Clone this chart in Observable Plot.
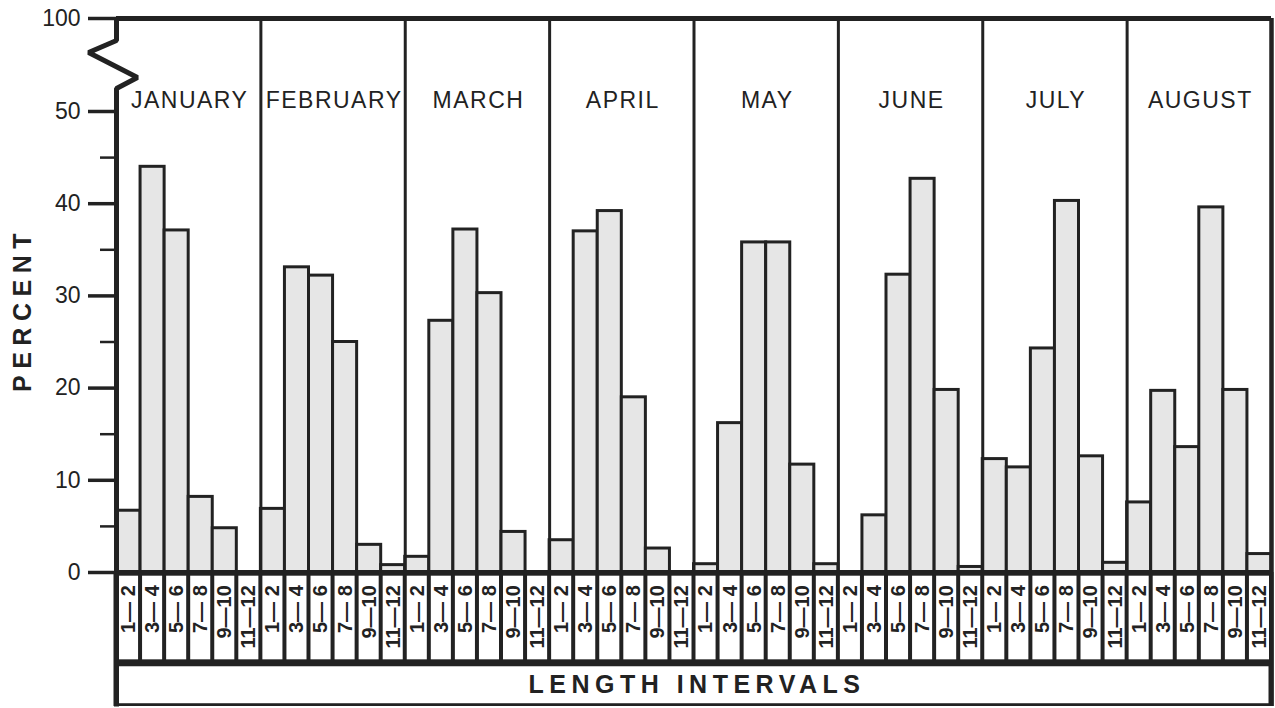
<!DOCTYPE html>
<html>
<head>
<meta charset="utf-8">
<script src="https://cdn.jsdelivr.net/npm/d3@7"></script>
<script src="https://cdn.jsdelivr.net/npm/@observablehq/plot@0.6"></script>
<style>
  html, body { margin: 0; padding: 0; background: white; }
</style>
</head>
<body>
<div id="chart"></div>
<script>
// ---- data ----
const months = ["JANUARY", "FEBRUARY", "MARCH", "APRIL", "MAY", "JUNE", "JULY", "AUGUST"];
const intervals = ["1\u2014 2", "3\u2014 4", "5\u2014 6", "7\u2014 8", "9\u201410", "11\u201412"];
const january  = [6.7, 44.0, 37.1, 8.2, 4.8, 0];
const february = [6.9, 33.1, 32.2, 25.0, 3.0, 0.8];
const march    = [1.7, 27.3, 37.2, 30.3, 4.4, 0];
const april    = [3.5, 37.0, 39.2, 19.0, 2.6, 0];
const may      = [0.9, 16.2, 35.8, 35.8, 11.7, 0.9];
const june     = [0, 6.2, 32.3, 42.7, 19.8, 0.6];
const july     = [12.3, 11.4, 24.3, 40.3, 12.6, 1.05];
const august   = [7.6, 19.7, 13.6, 39.6, 19.8, 2.0];
const yTicks = [0, 10, 20, 30, 40, 50, 100];
const yMinorTicks = [5, 15, 25, 35, 45];
const axisTitle = "PERCENT";
const xTitle = "LENGTH INTERVALS";

const series = [january, february, march, april, may, june, july, august];
const rows = months.flatMap((m, mi) =>
  series[mi].map((v, ii) => ({month: m, interval: intervals[ii], pos: mi * intervals.length + ii, value: v}))
);
const nSlots = months.length * intervals.length;
const panelEdges = d3.range(1, months.length).map(k => k * intervals.length);
const monthCenters = months.map((m, mi) => ({month: m, pos: mi * intervals.length + intervals.length / 2}));

const ink = "#222";
const plot = Plot.plot({
  width: 1275,
  height: 708,
  marginLeft: 116,
  marginRight: 4,
  marginTop: 18,
  marginBottom: 2,
  style: {fontFamily: "'Liberation Sans', Arial, Helvetica, sans-serif", background: "white", color: ink},
  x: {type: "linear", domain: [0, nSlots], axis: null},
  y: {type: "linear", domain: [-14.5, 0, 50, 100], range: [706, 572, 111, 18], axis: null},
  marks: [
    // dark band behind the label cells
    Plot.rect([xTitle], {x1: 0, x2: nSlots, y1: -14.5, y2: 0, fill: ink, insetLeft: -2.5, insetRight: -2.5}),
    // white label cells
    Plot.rect(rows, {x1: "pos", x2: d => d.pos + 1, y1: -9.45, y2: -0.4, fill: "white", insetLeft: 2, insetRight: 2}),
    Plot.text(rows, {x: d => d.pos + 0.5, y: -0.4, dy: 9, text: "interval", rotate: -90, textAnchor: "end",
      fontSize: 20, fontWeight: "bold", fill: ink}),
    // length intervals box
    Plot.rect([xTitle], {x1: 0, x2: nSlots, y1: -14.2, y2: -10.2, fill: "white", insetLeft: 2.5, insetRight: 2.5}),
    Plot.text([xTitle], {x: nSlots / 2, y: -12.2, dx: 3, text: d => d, fontSize: 25, fontWeight: "bold", fill: ink}),
    // bars
    Plot.rect(rows.filter(d => d.value > 0), {x1: "pos", x2: d => d.pos + 1, y1: 0, y2: "value",
      fill: "#e6e6e6", stroke: ink, strokeWidth: 3}),
    // panel separators and frame
    Plot.ruleX(panelEdges, {y1: 0, y2: 100, stroke: ink, strokeWidth: 3}),
    Plot.ruleX([nSlots], {y1: -14.5, y2: 100, stroke: ink, strokeWidth: 4.5}),
    Plot.ruleY([100], {x1: 0, x2: nSlots, stroke: ink, strokeWidth: 5}),
    Plot.ruleY([0], {x1: 0, x2: nSlots, stroke: ink, strokeWidth: 5}),
    // left axis line with scale break
    Plot.line([
      {x: 0, y: 100}, {x: 0, y: 88.2}, {x: -1.16, y: 81.7}, {x: 0.87, y: 68.3}, {x: 0, y: 62.4}, {x: 0, y: -14.5}
    ], {x: "x", y: "y", stroke: ink, strokeWidth: 5, strokeLinejoin: "miter", strokeLinecap: "butt"}),
    // y axis ticks
    Plot.axisY(yTicks, {anchor: "left", tickSize: 28, tickPadding: 8, strokeWidth: 3.5, fontSize: 23,
      label: null, stroke: ink, fill: ink}),
    Plot.axisY(yMinorTicks, {anchor: "left", tickSize: 16, strokeWidth: 2.5, tickFormat: () => "",
      label: null, stroke: ink}),
    // month labels
    Plot.text(monthCenters, {x: "pos", frameAnchor: "top", dy: 82, dx: 1, text: "month", fontSize: 23,
      lineAnchor: "middle", fill: ink}),
    // y title
    Plot.text([axisTitle], {frameAnchor: "left", dx: -93.5, dy: -53, rotate: -90, textAnchor: "middle",
      lineAnchor: "middle", text: d => d, fontSize: 25, fontWeight: "bold", fill: ink})
  ]
});

// letter spacing (typewriter-style lettering)
const spacing = new Map([[axisTitle, 6.5], [xTitle, 5.5], ...months.map(m => [m, 1.5])]);
d3.select(plot).selectAll("text").each(function() {
  const s = spacing.get(this.textContent);
  if (s != null) this.setAttribute("letter-spacing", s);
});
document.getElementById("chart").append(plot);
</script>
</body>
</html>
